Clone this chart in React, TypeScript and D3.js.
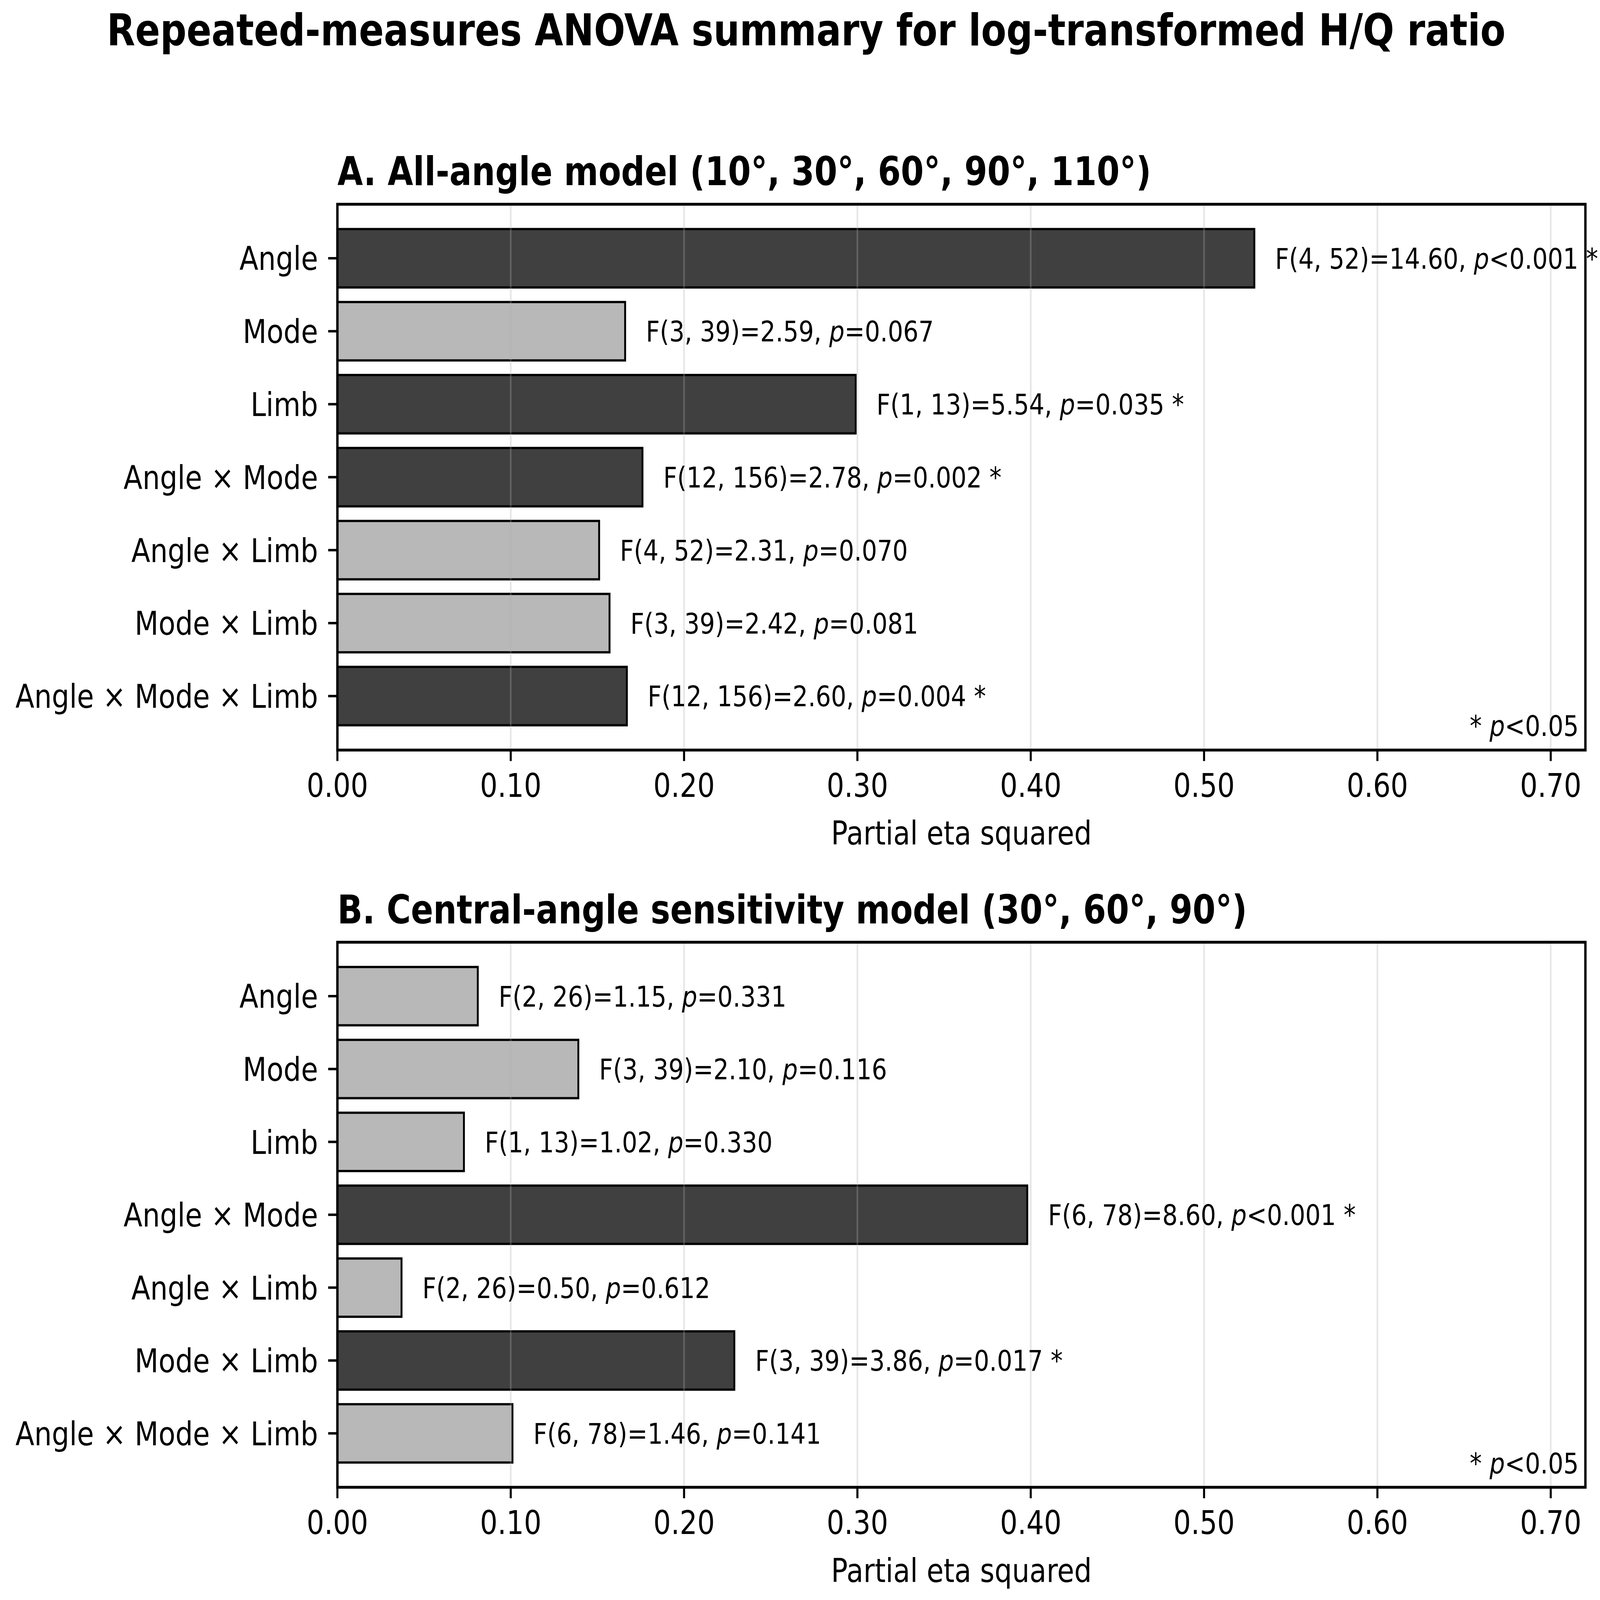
import React from "react";
import * as d3 from "d3";

const terms = [
  "Angle",
  "Mode",
  "Limb",
  "Angle × Mode",
  "Angle × Limb",
  "Mode × Limb",
  "Angle × Mode × Limb",
];

// A. all-angle model
const etaAll = [0.529, 0.166, 0.299, 0.176, 0.151, 0.157, 0.167];
const fAll = ["F(4, 52)=14.60", "F(3, 39)=2.59", "F(1, 13)=5.54", "F(12, 156)=2.78", "F(4, 52)=2.31", "F(3, 39)=2.42", "F(12, 156)=2.60"];
const pAll = ["<0.001", "=0.067", "=0.035", "=0.002", "=0.070", "=0.081", "=0.004"];
const sigAll = [true, false, true, true, false, false, true];

// B. central-angle model
const etaCentral = [0.081, 0.139, 0.073, 0.398, 0.037, 0.229, 0.101];
const fCentral = ["F(2, 26)=1.15", "F(3, 39)=2.10", "F(1, 13)=1.02", "F(6, 78)=8.60", "F(2, 26)=0.50", "F(3, 39)=3.86", "F(6, 78)=1.46"];
const pCentral = ["=0.331", "=0.116", "=0.330", "<0.001", "=0.612", "=0.017", "=0.141"];
const sigCentral = [false, false, false, true, false, true, false];

const xTicks = [0, 0.1, 0.2, 0.3, 0.4, 0.5, 0.6, 0.7];

const W = 5041;
const H = 4230;
const left = 1063;
const right = 4995;
const FONT = "DejaVu Sans, sans-serif";

function Panel({ top, bottom, title, eta, fStats, pVals, sig }: any) {
  const x = d3.scaleLinear().domain([0, 0.72]).range([left, right]);
  const y = d3.scaleBand<string>().domain(terms).range([top, bottom]).paddingInner(0.2).paddingOuter(0.34);
  const bw = y.bandwidth();
  return (
    <g>
      <text x={left} y={top - 50} fontFamily={FONT} fontWeight="bold" fontSize={104}>
        {title}
      </text>
      {terms.map((t, i) => (
        <rect
          key={t}
          x={x(0)}
          y={y(t)}
          width={x(eta[i]) - x(0)}
          height={bw}
          fill={sig[i] ? "#404040" : "#b8b8b8"}
          stroke="#000"
          strokeWidth={6}
        />
      ))}
      {/* grid sits above the bars, as in the original */}
      {xTicks.map((v) => (
        <line key={v} x1={x(v)} x2={x(v)} y1={top} y2={bottom} stroke="#b0b0b0" strokeOpacity={0.3} strokeWidth={5.5} />
      ))}
      {terms.map((t, i) => (
        <text key={t} x={x(eta[i] + 0.012)} y={(y(t) as number) + bw / 2} dy="0.36em" fontFamily={FONT} fontSize={76}>
          {fStats[i] + ", "}
          <tspan fontStyle="italic">p</tspan>
          {pVals[i] + (sig[i] ? " *" : "")}
        </text>
      ))}
      <text x={4974} y={bottom - 37} textAnchor="end" fontFamily={FONT} fontSize={76}>
        {"* "}
        <tspan fontStyle="italic">p</tspan>
        {"<0.05"}
      </text>
      <rect x={left} y={top} width={right - left} height={bottom - top} fill="none" stroke="#000" strokeWidth={7.5} />
      {terms.map((t) => {
        const cy = (y(t) as number) + bw / 2;
        return (
          <g key={t}>
            <line x1={left - 29} x2={left} y1={cy} y2={cy} stroke="#000" strokeWidth={6.5} />
            <text x={1002} y={cy} dy="0.36em" textAnchor="end" fontFamily={FONT} fontSize={87}>
              {t}
            </text>
          </g>
        );
      })}
      {xTicks.map((v) => (
        <g key={v}>
          <line x1={x(v)} x2={x(v)} y1={bottom} y2={bottom + 29} stroke="#000" strokeWidth={6.5} />
          <text x={x(v)} y={bottom + 124} textAnchor="middle" fontFamily={FONT} fontSize={87}>
            {v.toFixed(2)}
          </text>
        </g>
      ))}
      <text x={(left + right) / 2} y={bottom + 250} textAnchor="middle" fontFamily={FONT} fontSize={87}>
        Partial eta squared
      </text>
    </g>
  );
}

export default function App() {
  // the drawing uses the reference's pixel frame and is fitted to the window
  return (
    <svg
      viewBox={`0 0 ${W} ${H}`}
      preserveAspectRatio="none"
      style={{ position: "absolute", left: 0, top: 0, width: "100vw", height: "100vh", background: "#fff" }}
    >
      <rect width={W} height={H} fill="#fff" />
      <text x={2540} y={120} textAnchor="middle" fontFamily={FONT} fontWeight="bold" fontSize={116}>
        Repeated-measures ANOVA summary for log-transformed H/Q ratio
      </text>
      <Panel
        top={540}
        bottom={1983}
        title="A. All-angle model (10°, 30°, 60°, 90°, 110°)"
        eta={etaAll}
        fStats={fAll}
        pVals={pAll}
        sig={sigAll}
      />
      <Panel
        top={2491}
        bottom={3932}
        title="B. Central-angle sensitivity model (30°, 60°, 90°)"
        eta={etaCentral}
        fStats={fCentral}
        pVals={pCentral}
        sig={sigCentral}
      />
    </svg>
  );
}
